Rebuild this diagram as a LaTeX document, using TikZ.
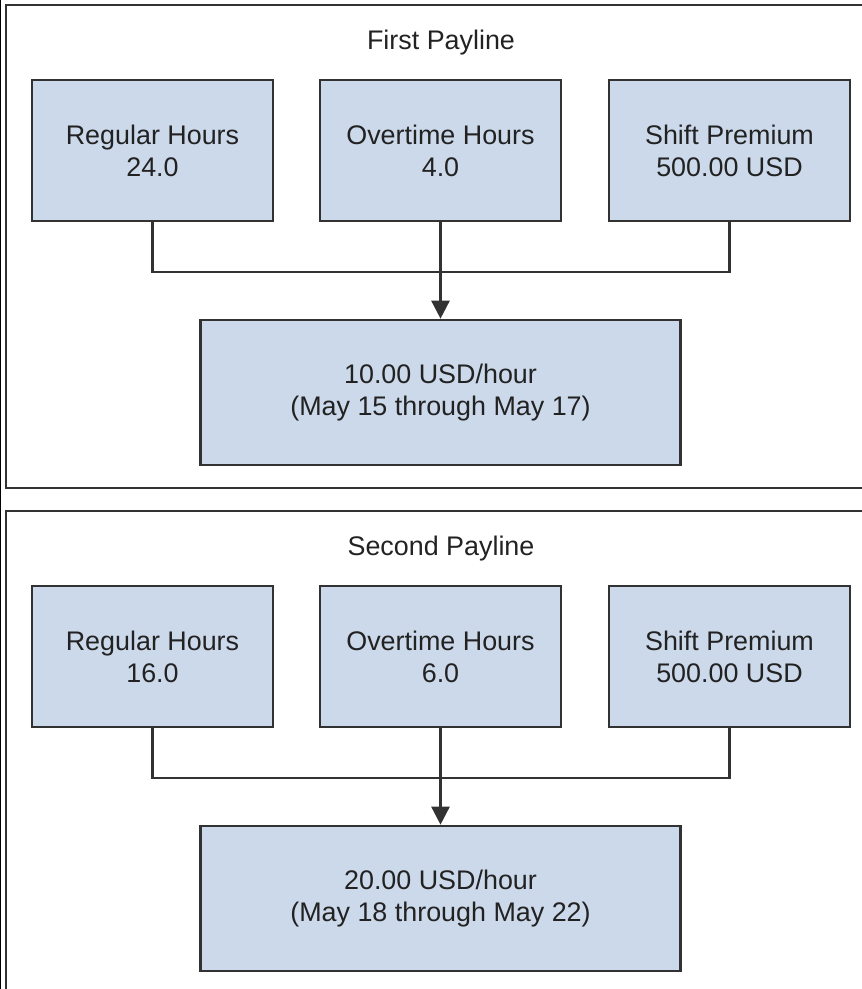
\documentclass[tikz,border=0pt]{standalone}
\usepackage{fontspec}
\setmainfont{Liberation Sans}
\usepackage{tikz}
\usetikzlibrary{arrows.meta,positioning,calc}
\definecolor{boxfill}{RGB}{204,217,234}
\definecolor{edgegray}{RGB}{50,50,50}
\definecolor{txtgray}{RGB}{34,34,34}
\tikzset{
  panel/.style={draw=edgegray, line width=1.5pt},
  box/.style={draw=edgegray, fill=boxfill, line width=1.5pt, rectangle, align=center, text=txtgray,
    font=\fontsize{15.3}{18.2}\selectfont, minimum width=4.82cm, minimum height=2.82cm, inner sep=2pt},
  rbox/.style={box, minimum width=9.6cm, minimum height=2.9cm},
  ttl/.style={font=\fontsize{15.3}{18.2}\selectfont, text=txtgray},
  link/.style={draw=edgegray, line width=1.5pt},
  arr/.style={-{Triangle[length=0.36cm,width=0.36cm]}, draw=edgegray, line width=1.5pt},
}
\begin{document}
\begin{tikzpicture}[x=1cm,y=1cm]
\clip (0,0) rectangle (17.24,19.78);
\draw[black, line width=0.5pt] (0.01,0) -- (0.01,19.78);
% first payline
\draw[panel] (17.6,10.02) -- (0.12,10.02) -- (0.12,19.68) -- (17.6,19.68);
\node[ttl] (t1) at (8.82,18.92) {First Payline};
\node[box] (reg1) at (3.05,16.77) {Regular Hours\\24.0};
\node[box] (ovt1) at (8.81,16.77) {Overtime Hours\\4.0};
\node[box] (shf1) at (14.59,16.77) {Shift Premium\\500.00 USD};
\node[rbox] (rate1) at (8.81,11.93) {10.00 USD/hour\\(May 15 through May 17)};
\draw[link] (reg1.south) |- (8.81,14.34) -| (shf1.south);
\draw[arr] (ovt1.south) -- (rate1.north);
% second payline
\draw[panel] (17.6,9.56) -- (0.12,9.56) -- (0.12,-0.5);
\node[ttl] (t2) at (8.82,8.80) {Second Payline};
\node[box] (reg2) at (3.05,6.65) {Regular Hours\\16.0};
\node[box] (ovt2) at (8.81,6.65) {Overtime Hours\\6.0};
\node[box] (shf2) at (14.59,6.65) {Shift Premium\\500.00 USD};
\node[rbox] (rate2) at (8.81,1.81) {20.00 USD/hour\\(May 18 through May 22)};
\draw[link] (reg2.south) |- (8.81,4.22) -| (shf2.south);
\draw[arr] (ovt2.south) -- (rate2.north);
\end{tikzpicture}
\end{document}
